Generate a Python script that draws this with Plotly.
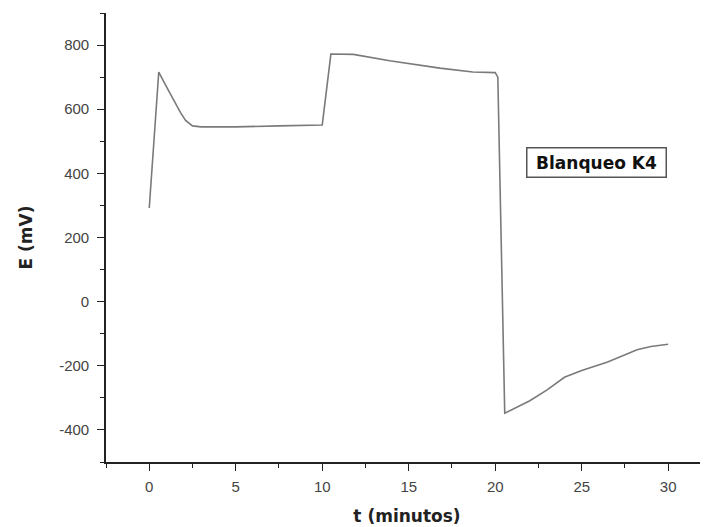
import plotly.graph_objects as go

t_min = [0.0, 0.55, 1.0, 1.4, 1.8, 2.1, 2.5, 3.0, 5.0, 7.5, 10.0, 10.5, 11.8, 13.9, 16.8, 18.7, 20.0, 20.15, 20.55, 22.0, 23.0, 24.0, 25.0, 26.5, 28.2, 29.0, 30.0]
E_mV = [292, 716, 670, 630, 590, 565, 548, 545, 545, 548, 551, 772, 771, 751, 728, 716, 714, 700, -348, -309, -275, -236, -215, -188, -150, -140, -133]
x_ticks = [0, 5, 10, 15, 20, 25, 30]
y_ticks = [-400, -200, 0, 200, 400, 600, 800]
legend_text = "Blanqueo K4"
x_title = "t (minutos)"
y_title = "E (mV)"

FONT = "Liberation Sans, Arial, sans-serif"
BFONT = "DejaVu Sans, sans-serif"

fig = go.Figure()
fig.add_trace(go.Scatter(x=t_min, y=E_mV, mode="lines",
                         line=dict(color="#7a7a7a", width=1.6),
                         showlegend=False))

axis_common = dict(showline=True, linecolor="#222", linewidth=1.6,
                   ticks="outside", ticklen=7, tickwidth=1.4, tickcolor="#222",
                   showgrid=False, zeroline=False, automargin=False,
                   tickfont=dict(family=FONT, size=15, color="#444"))

fig.update_xaxes(range=[-2.5, 32.3], tickmode="array", tickvals=x_ticks,
                 ticktext=[str(v) for v in x_ticks], ticklabelstandoff=3,
                 minor=dict(dtick=2.5, tick0=0, ticks="outside", ticklen=4, tickwidth=1.3, tickcolor="#222"),
                 title=dict(text="<b>" + x_title + "</b>", font=dict(family=BFONT, size=17, color="#222"), standoff=16),
                 **axis_common)
fig.update_yaxes(range=[-500, 900], tickmode="array", tickvals=y_ticks,
                 ticktext=[str(v) for v in y_ticks], ticklabelstandoff=5,
                 minor=dict(dtick=100, tick0=0, ticks="outside", ticklen=4, tickwidth=1.3, tickcolor="#222"),
                 title=dict(text="<b>" + y_title + "</b>", font=dict(family=BFONT, size=17, color="#222"), standoff=22),
                 **axis_common)

fig.add_annotation(x=0.8155, y=0.666, xref="paper", yref="paper",
                   xanchor="center", yanchor="middle",
                   text="<b>" + legend_text + "</b>", showarrow=False,
                   font=dict(family=BFONT, size=17, color="#111"),
                   bordercolor="#555", borderwidth=1.5, borderpad=3,
                   width=132, height=22, bgcolor="white")

fig.update_layout(width=708, height=527,
                  margin=dict(l=98, r=8, t=5, b=73),
                  paper_bgcolor="white", plot_bgcolor="white")

fig.write_html("out.html")
